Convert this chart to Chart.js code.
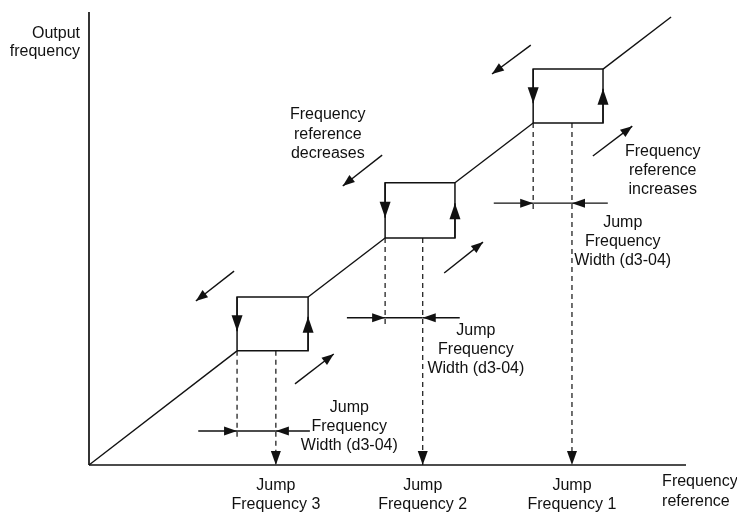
<!DOCTYPE html>
<html>
<head>
<meta charset="utf-8">
<script src="https://cdn.jsdelivr.net/npm/chart.js@4"></script>
<style>
  html, body { margin: 0; padding: 0; background: #fff; }
  #wrap { width: 737px; height: 516px; position: relative; }
</style>
</head>
<body>
<div id="wrap"><canvas id="jumpChart"></canvas></div>
<script>
// ─── DATA (reference axis / output axis, 0-100) ─────────────

const jumpLabels = ['Jump Frequency 3', 'Jump Frequency 2', 'Jump Frequency 1'];
const jumpFreq   = [31.3, 55.9, 80.9];   // centre of each jump band
const bandLow    = [24.8, 49.6, 74.4];   // reference where the band starts
const bandHigh   = [36.7, 61.3, 86.1];   // reference where the band ends
const outLow     = [25.2, 50.1, 75.5];   // output held below the band
const outHigh    = [37.1, 62.3, 87.4];   // output held above the band
const lineEnd    = [97.5, 98.9];

// "Jump Frequency Width" markers
const widthY     = [7.5, 32.5, 57.8];
const widthFrom  = [18.3, 43.2, 67.8];
const widthTo    = [37.0, 62.1, 86.9];
const dashLow    = [5.5, 30.5, 55.8];

// direction hints: [fromX, fromY, toX, toY]
const decArrows  = [[24.3, 42.8, 17.9, 36.2], [49.1, 68.4, 42.5, 61.6], [74.0, 92.7, 67.5, 86.3]];
const incArrows  = [[34.5, 17.9, 41.0, 24.5], [59.5, 42.4, 66.0, 49.2], [84.4, 68.2, 91.0, 74.8]];

const INK = '#111';
const FONT = '16px "Liberation Sans", Arial, sans-serif';

function seg(points, extra) {
  return Object.assign({
    data: points.map(p => ({ x: p[0], y: p[1] })),
    showLine: true,
    borderColor: INK,
    borderWidth: 1.4,
    pointRadius: 0,
    fill: false,
    clip: false
  }, extra || {});
}

// ─── DATASETS ───────────────────────────────────────────

const datasets = [];

// axes
datasets.push(seg([[0, 0], [100, 0]], { borderWidth: 1.7 }));
datasets.push(seg([[0, 0], [0, 100]], { borderWidth: 1.7 }));

// output vs reference
datasets.push(seg([[0, 0], [bandLow[0], outLow[0]]]));
for (let i = 0; i < 2; i++) {
  datasets.push(seg([[bandHigh[i], outHigh[i]], [bandLow[i + 1], outLow[i + 1]]]));
}
datasets.push(seg([[bandHigh[2], outHigh[2]], lineEnd]));

for (let i = 0; i < 3; i++) {
  const lo = bandLow[i], hi = bandHigh[i], yl = outLow[i], yh = outHigh[i];
  const mid = (yl + yh) / 2;

  // hysteresis box
  datasets.push(seg([[lo, yl], [lo, yh], [hi, yh], [hi, yl], [lo, yl]], { borderWidth: 1.5 }));
  datasets.push(seg([[lo, yh], [lo, mid - 1.6]], { head: [16, 5.5] }));
  datasets.push(seg([[hi, yl], [hi, mid + 1.6]], { head: [16, 5.5] }));

  // dashed drops
  datasets.push(seg([[lo, yl], [lo, dashLow[i]]], { borderDash: [5, 4], borderWidth: 1.2 }));
  datasets.push(seg([[jumpFreq[i], yl], [jumpFreq[i], 0]], { borderDash: [5, 4], borderWidth: 1.2, head: [14, 5] }));

  // width arrows
  datasets.push(seg([[widthFrom[i], widthY[i]], [lo, widthY[i]]], { head: [13, 4.5] }));
  datasets.push(seg([[widthTo[i], widthY[i]], [jumpFreq[i], widthY[i]]], { head: [13, 4.5] }));
  datasets.push(seg([[lo, widthY[i]], [jumpFreq[i], widthY[i]]]));

  // direction hints
  const d = decArrows[i], u = incArrows[i];
  datasets.push(seg([[d[0], d[1]], [d[2], d[3]]], { head: [12, 4.5] }));
  datasets.push(seg([[u[0], u[1]], [u[2], u[3]]], { head: [12, 4.5] }));
}

// ─── TEXT ───────────────────────────────────────────────

const labels = [
  { lines: ['Output', 'frequency'], x: -1.5, y: 94.2, align: 'right', lh: 18 },
  { lines: ['Frequency', 'reference'], x: 96.0, y: -4.6, align: 'left', lh: 20 },
  { lines: ['Frequency', 'reference', 'decreases'], x: 40.0, y: 76.4, align: 'center', lh: 19.6 },
  { lines: ['Frequency', 'reference', 'increases'], x: 96.1, y: 68.2, align: 'center', lh: 19 }
];
jumpLabels.forEach((t, i) => {
  const sp = t.indexOf(' ');
  labels.push({ lines: [t.slice(0, sp), t.slice(sp + 1)], x: jumpFreq[i], y: -5.5, align: 'center', lh: 19.5 });
});
[[43.6, 11.7], [64.8, 28.6], [89.4, 52.6]].forEach(p => {
  labels.push({ lines: ['Jump', 'Frequency', 'Width (d3-04)'], x: p[0], y: p[1], align: 'center', lh: 19 });
});

// ─── PLUGINS ────────────────────────────────────────────

const arrowHeads = {
  id: 'arrowHeads',
  afterDatasetsDraw(chart) {
    const ctx = chart.ctx, xs = chart.scales.x, ys = chart.scales.y;
    chart.data.datasets.forEach(ds => {
      if (!ds.head) return;
      const n = ds.data.length;
      const a = ds.data[n - 2], b = ds.data[n - 1];
      const x1 = xs.getPixelForValue(a.x), y1 = ys.getPixelForValue(a.y);
      const x2 = xs.getPixelForValue(b.x), y2 = ys.getPixelForValue(b.y);
      const ang = Math.atan2(y2 - y1, x2 - x1);
      const [len, half] = ds.head;
      ctx.save();
      ctx.translate(x2, y2);
      ctx.rotate(ang);
      ctx.beginPath();
      ctx.moveTo(0, 0);
      ctx.lineTo(-len, -half);
      ctx.lineTo(-len, half);
      ctx.closePath();
      ctx.fillStyle = INK;
      ctx.fill();
      ctx.restore();
    });
  }
};

const textLabels = {
  id: 'textLabels',
  afterDraw(chart) {
    const ctx = chart.ctx, xs = chart.scales.x, ys = chart.scales.y;
    ctx.save();
    ctx.font = FONT;
    ctx.fillStyle = INK;
    ctx.textBaseline = 'alphabetic';
    labels.forEach(l => {
      const px = xs.getPixelForValue(l.x);
      const py = ys.getPixelForValue(l.y);
      ctx.textAlign = l.align;
      l.lines.forEach((s, k) => ctx.fillText(s, px, py + k * l.lh));
    });
    ctx.restore();
  }
};

// ─── CHART ──────────────────────────────────────────────

new Chart(document.getElementById('jumpChart').getContext('2d'), {
  type: 'scatter',
  data: { datasets },
  options: {
    responsive: true,
    maintainAspectRatio: false,
    animation: false,
    layout: { padding: { left: 89, right: 51, top: 12, bottom: 51 } },
    plugins: { legend: { display: false }, tooltip: { enabled: false } },
    scales: {
      x: { type: 'linear', min: 0, max: 100, display: false },
      y: { type: 'linear', min: 0, max: 100, display: false }
    }
  },
  plugins: [arrowHeads, textLabels]
});
</script>
</body>
</html>
